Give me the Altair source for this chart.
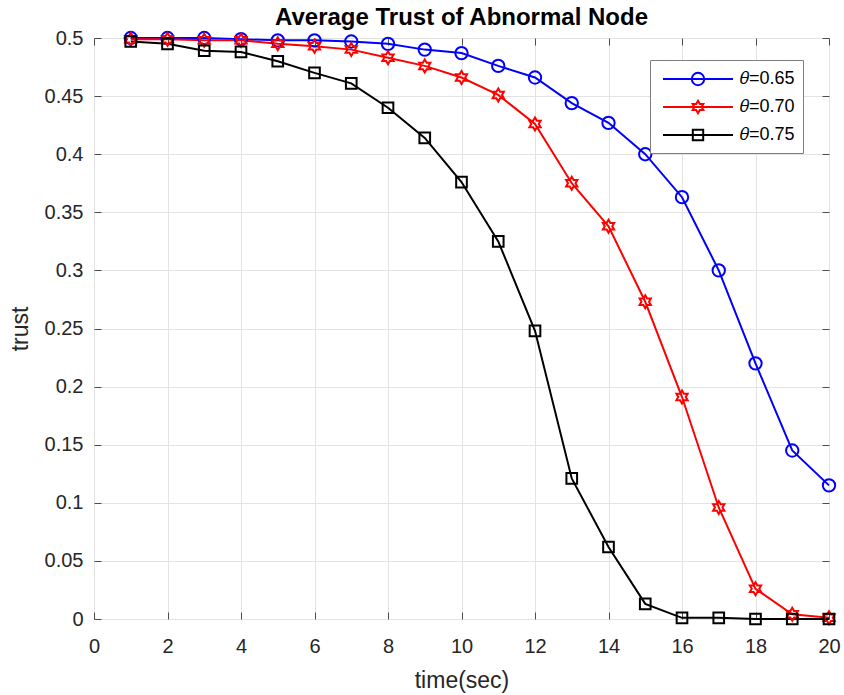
import altair as alt
import pandas as pd

# ---------------- data ----------------
TIME = list(range(1, 21))
TRUST_065 = [0.500, 0.500, 0.500, 0.499, 0.498, 0.498, 0.497, 0.495, 0.490, 0.487,
             0.476, 0.466, 0.444, 0.427, 0.400, 0.363, 0.300, 0.220, 0.145, 0.115]
TRUST_070 = [0.499, 0.499, 0.498, 0.498, 0.495, 0.493, 0.490, 0.483, 0.476, 0.466,
             0.451, 0.426, 0.375, 0.338, 0.273, 0.191, 0.096, 0.026, 0.004, 0.001]
TRUST_075 = [0.497, 0.495, 0.489, 0.488, 0.480, 0.470, 0.461, 0.440, 0.414, 0.376,
             0.325, 0.248, 0.121, 0.062, 0.013, 0.001, 0.001, 0.000, 0.000, 0.000]
SERIES = ["\U0001D703=0.65", "\U0001D703=0.70", "\U0001D703=0.75"]
COLORS = ["#0000ff", "#ff0000", "#000000"]
X_TICKS = [0, 2, 4, 6, 8, 10, 12, 14, 16, 18, 20]
Y_TICKS = [0, 0.05, 0.1, 0.15, 0.2, 0.25, 0.3, 0.35, 0.4, 0.45, 0.5]

rows = []
for name, vals in zip(SERIES, [TRUST_065, TRUST_070, TRUST_075]):
    for t, v in zip(TIME, vals):
        rows.append({"time": t, "trust": v, "series": name})
df = pd.DataFrame(rows)

# ---------------- marker shapes (unit paths) ----------------
def circle(r):
    return f"M{-r},0A{r},{r} 0 1,0 {r},0A{r},{r} 0 1,0 {-r},0Z"

def square(h):
    return f"M{-h},{-h}L{h},{-h}L{h},{h}L{-h},{h}Z"

def hexagram(r):
    import math
    pts = []
    for i in range(12):
        ang = math.radians(-90 + 30 * i)
        rr = r if i % 2 == 0 else r / math.sqrt(3)
        pts.append(f"{rr*math.cos(ang):.4f},{rr*math.sin(ang):.4f}")
    return "M" + "L".join(pts) + "Z"

POINT_SHAPES = [circle(0.95), hexagram(1.0), square(0.82)]
LINE_STUB = "M-3.5,0L3.5,0"
LEGEND_SHAPES = [LINE_STUB + circle(0.62), LINE_STUB + hexagram(0.62), LINE_STUB + square(0.52)]

FONT = "Liberation Sans"
W, H = 735, 581
TICK_COLOR = "#4d4d4d"

xs = alt.Scale(domain=[0, 20], nice=False, zero=False)
ys = alt.Scale(domain=[0, 0.5], nice=False, zero=False)

x_main = alt.Axis(values=X_TICKS, grid=True, gridColor="#e3e3e3", gridWidth=1,
                  ticks=False, tickSize=0, domain=False, labelFont=FONT, labelFontSize=20,
                  labelColor="#262626", labelPadding=17, labelFlush=False,
                  title="time(sec)", titleFont=FONT, titleFontSize=23, titleFontWeight="normal",
                  titleColor="#262626", titleBaseline="alphabetic", titleY=68, titleX=W / 2)
y_main = alt.Axis(values=Y_TICKS, format=".2~f", grid=True, gridColor="#e3e3e3", gridWidth=1,
                  ticks=False, tickSize=0, domain=False, labelFont=FONT, labelFontSize=20,
                  labelColor="#262626", labelPadding=11, labelFlush=False,
                  title="trust", titleFont=FONT, titleFontSize=23, titleFontWeight="normal",
                  titleColor="#262626", titleAngle=270, titleAlign="center",
                  titleBaseline="middle", titleX=-74, titleY=H / 2)

def tick_axis(values, orient, offset):
    return alt.Axis(values=values, orient=orient, offset=offset, labels=False, domain=False,
                    grid=False, ticks=True, tickSize=7, tickWidth=1, tickColor=TICK_COLOR,
                    title=None)

lines = alt.Chart(df).mark_line(strokeWidth=2).encode(
    x=alt.X("time:Q", scale=xs, axis=x_main),
    y=alt.Y("trust:Q", scale=ys, axis=y_main),
    color=alt.Color("series:N", scale=alt.Scale(domain=SERIES, range=COLORS), legend=None),
    detail="series:N",
)

points = alt.Chart(df).mark_point(filled=False, strokeWidth=2, size=169, opacity=1).encode(
    x=alt.X("time:Q", scale=xs, axis=tick_axis(X_TICKS, "top", -H)),
    y=alt.Y("trust:Q", scale=ys, axis=tick_axis(Y_TICKS, "right", -W)),
    color=alt.Color("series:N", scale=alt.Scale(domain=SERIES, range=COLORS), legend=None),
    shape=alt.Shape("series:N", scale=alt.Scale(domain=SERIES, range=POINT_SHAPES), legend=None),
)

legend = alt.Legend(title=None, orient="none", legendX=556, legendY=22, padding=8,
                    fillColor="white", strokeColor="#7f7f7f",
                    labelFont=FONT, labelFontSize=18, labelColor="#000000",
                    symbolSize=400, symbolStrokeWidth=2, symbolOffset=29, labelOffset=31,
                    rowPadding=6)

legend_layer = alt.Chart(df).mark_point(filled=False, strokeWidth=2, size=400, opacity=0).encode(
    x=alt.X("time:Q", scale=xs, axis=tick_axis(X_TICKS, "bottom", -H)),
    y=alt.Y("trust:Q", scale=ys, axis=tick_axis(Y_TICKS, "left", -W)),
    color=alt.Color("series:N", scale=alt.Scale(domain=SERIES, range=COLORS), legend=legend),
    shape=alt.Shape("series:N", scale=alt.Scale(domain=SERIES, range=LEGEND_SHAPES), legend=legend),
)

chart = alt.layer(lines, points, legend_layer).resolve_scale(
    color="independent", shape="independent"
).resolve_axis(
    x="independent", y="independent"
).properties(
    width=W, height=H,
    autosize="none",
    padding={"left": 94, "top": 38, "right": 15, "bottom": 76},
    title=alt.Title("Average Trust of Abnormal Node", font=FONT, fontSize=24, fontWeight="bold",
                    color="#000000", anchor="middle", baseline="alphabetic", offset=12,
                    frame="group", dy=33),
).configure_view(
    stroke="#7f7f7f", strokeWidth=1.5
).configure_legend(
    strokeWidth=1.5, cornerRadius=0
).configure(background="white")

chart.save("out.html", embed_options={"renderer": "svg", "actions": False})
